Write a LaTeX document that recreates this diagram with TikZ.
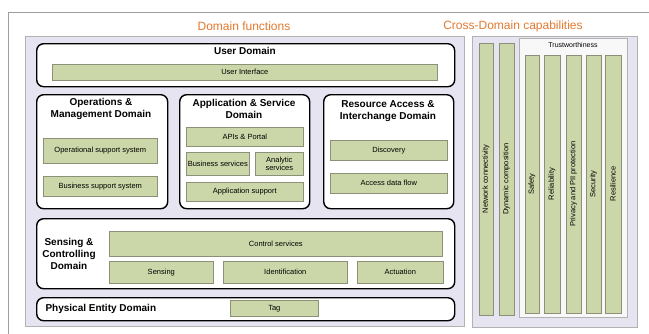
\documentclass[tikz,border=0pt]{standalone}
\usepackage{fontspec}
\setmainfont{Liberation Sans}
\usepackage{xcolor}
\usepackage{tikz}
\usetikzlibrary{positioning}
\definecolor{PanelLilac}{HTML}{E6E4F0}
\definecolor{BarGreen}{HTML}{CCD7A9}
\definecolor{BarEdge}{HTML}{8C9078}
\definecolor{HeadOrange}{HTML}{E2782E}
\definecolor{TrustWhite}{HTML}{F8F8F8}

\begin{document}
\begin{tikzpicture}[
      x=1pt, y=-1pt,
      every node/.style={align=center},
      outerframe/.style={draw=gray!75, line width=0.8pt},
      heading/.style={font=\fontsize{12}{14}\selectfont, text=HeadOrange},
      panel/.style={draw=gray!60, fill=PanelLilac, anchor=north west, inner sep=0pt},
      domainbox/.style={draw=black, line width=1.4pt, rounded corners=7pt, fill=white, anchor=north west, inner sep=0pt},
      domtitle/.style={font=\bfseries\fontsize{10}{12}\selectfont},
      bar/.style={draw=BarEdge, line width=0.6pt, fill=BarGreen, anchor=north west, inner sep=0pt, font=\fontsize{7.5}{9}\selectfont},
      pillar/.style={draw=BarEdge, line width=0.6pt, fill=BarGreen, rotate=90, inner sep=0pt, font=\fontsize{7.5}{9}\selectfont}
    ]
      \useasboundingbox (0,0) rectangle (649,333);

      % outer frame and headings
      \draw[outerframe] (8,345) |- (660,12);
      \node[heading] (domfun) at (244,26) {Domain functions};
      \node[heading] (crossdom) at (513,26) {Cross-Domain capabilities};

      \node[panel, minimum width=439, minimum height=290] (leftpanel) at (25,36) {};
      \node[panel, minimum width=165, minimum height=291] (rightpanel) at (472,36) {};

      % user domain
      \node[domainbox, minimum width=418, minimum height=43] (user) at (36,43) {};
      \node[domtitle] (usertitle) at (245,51) {User Domain};
      \node[bar, minimum width=385, minimum height=16] (ui) at (52,64) {User Interface};

      % operations & management
      \node[domainbox, minimum width=131, minimum height=114] (ops) at (36,94) {};
      \node[domtitle] (opstitle) at (101,109) {Operations \&\\Management Domain};
      \node[bar, minimum width=114, minimum height=25] (oss) at (43,138) {Operational support system};
      \node[bar, minimum width=114, minimum height=20] (bss) at (43,176) {Business support system};

      % application & service
      \node[domainbox, minimum width=130, minimum height=114] (app) at (179,94) {};
      \node[domtitle] (apptitle) at (244,109) {Application \& Service\\Domain};
      \node[bar, minimum width=117, minimum height=19] (apis) at (186,127) {APIs \& Portal};
      \node[bar, minimum width=63, minimum height=23] (bizserv) at (186,152) {Business services};
      \node[bar, minimum width=48, minimum height=23] (analytic) at (255,152) {Analytic\\[-1pt]services};
      \node[bar, minimum width=117, minimum height=19] (appsup) at (186,182) {Application support};

      % resource access & interchange
      \node[domainbox, minimum width=130, minimum height=114] (res) at (323,94) {};
      \node[domtitle] (restitle) at (388,111) {Resource Access \&\\Interchange Domain};
      \node[bar, minimum width=117, minimum height=20] (disc) at (330,140) {Discovery};
      \node[bar, minimum width=117, minimum height=20] (adf) at (330,173) {Access data flow};

      % sensing & controlling
      \node[domainbox, minimum width=418, minimum height=70] (sens) at (36,218) {};
      \node[domtitle] (senstitle) at (69,254) {Sensing \&\\Controlling\\Domain};
      \node[bar, minimum width=333, minimum height=25] (ctrl) at (109,231) {Control services};
      \node[bar, minimum width=104, minimum height=22] (sensing) at (109,261) {Sensing};
      \node[bar, minimum width=124, minimum height=22] (ident) at (223,261) {Identification};
      \node[bar, minimum width=86, minimum height=22] (act) at (357,261) {Actuation};

      % physical entity
      \node[domainbox, minimum width=418, minimum height=23] (phys) at (36,297) {};
      \node[domtitle, anchor=west] (phystitle) at (42,308.5) {Physical Entity Domain};
      \node[bar, minimum width=88, minimum height=16] (tag) at (230,300) {Tag};

      % cross-domain capabilities
      \node[pillar, minimum width=272, minimum height=14] (netcon) at (486,179) {Network connectivity};
      \node[pillar, minimum width=272, minimum height=15] (dyncomp) at (506.5,179) {Dynamic composition};
      \node[draw=gray!60, fill=TrustWhite, anchor=north west, inner sep=0pt, minimum width=108, minimum height=279] (trust) at (519,38) {};
      \node[font=\fontsize{7}{8}\selectfont] (trusttitle) at (573,45) {Trustworthiness};
      \node[pillar, minimum width=258, minimum height=14] (safety) at (532,184) {Safety};
      \node[pillar, minimum width=258, minimum height=16] (reliab) at (552,184) {Reliability};
      \node[pillar, minimum width=258, minimum height=15] (privacy) at (573.5,184) {Privacy and PII protection};
      \node[pillar, minimum width=258, minimum height=15] (security) at (593.5,184) {Security};
      \node[pillar, minimum width=258, minimum height=16] (resil) at (613,184) {Resilience};

    \end{tikzpicture}
\end{document}
